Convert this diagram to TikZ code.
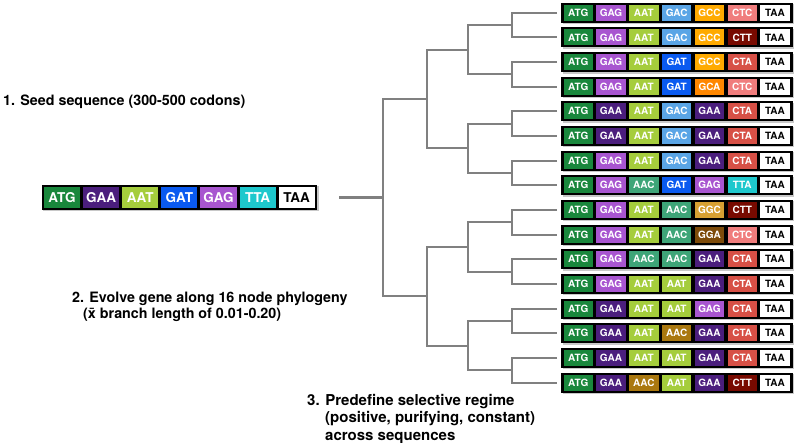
\documentclass[tikz,border=0pt]{standalone}
\usepackage{fontspec}
\setmainfont{TeX Gyre Heros}
\usetikzlibrary{calc}
\definecolor{cATG}{RGB}{25,135,60}
\definecolor{cGAG}{RGB}{168,85,208}
\definecolor{cGAA}{RGB}{75,30,125}
\definecolor{cAAT}{RGB}{165,205,60}
\definecolor{cAACt}{RGB}{62,165,120}
\definecolor{cAACb}{RGB}{170,120,15}
\definecolor{cGAC}{RGB}{90,165,230}
\definecolor{cGAT}{RGB}{10,90,240}
\definecolor{cGCC}{RGB}{255,170,0}
\definecolor{cGCA}{RGB}{255,135,0}
\definecolor{cCTC}{RGB}{240,125,125}
\definecolor{cCTT}{RGB}{120,10,0}
\definecolor{cCTA}{RGB}{215,80,70}
\definecolor{cTTA}{RGB}{30,200,205}
\definecolor{cGGC}{RGB}{215,160,50}
\definecolor{cGGA}{RGB}{125,75,10}
\definecolor{treegray}{RGB}{128,128,128}
\definecolor{shadowgray}{RGB}{200,200,200}
\tikzset{
  treeline/.style={draw=treegray, line width=2.2pt},
  leafbox/.style={fill=black, minimum width=231.5pt, minimum height=20pt, inner sep=0pt, outer sep=0pt},
  leafcell/.style={minimum width=29.5pt, minimum height=16pt, inner sep=0pt, outer sep=0pt, text=white, font=\fontsize{10}{10}\selectfont\bfseries},
  seedbox/.style={fill=black, minimum width=275.3pt, minimum height=25pt, inner sep=0pt, outer sep=0pt},
  seedcell/.style={minimum width=36.1pt, minimum height=21pt, inner sep=0pt, outer sep=0pt, text=white, font=\fontsize{13.5}{13.5}\selectfont\bfseries},
  steplabel/.style={font=\fontsize{14.3}{17}\selectfont\bfseries, inner sep=0pt, anchor=base west},
  steplabelb/.style={font=\fontsize{15}{17}\selectfont\bfseries, inner sep=0pt, anchor=base west},
}
\newcommand\leafrow[2]{%
  \pgfmathsetmacro\myrowy{12.7+24.66*(#1-1)}%
  \fill[shadowgray] (562.5,\myrowy-8.5) rectangle (794,\myrowy+11.5);
  \node[leafbox] (r#1) at (676.75,\myrowy) {};
  \foreach \c/\t [count=\j] in {#2}{
    \node[leafcell, fill=\c] (r#1c\j) at ({578.25+32.8*(\j-1)},\myrowy) {\t};
  }
  \node[leafcell, fill=white, text=black] (r#1c7) at ({578.25+32.8*6},\myrowy) {TAA};
  \coordinate (L#1) at ([xshift=-4pt]r#1.west);
}
\begin{document}
\begin{tikzpicture}[x=1pt,y=-1pt]
\useasboundingbox (0,0) rectangle (797,443);

% seed sequence
\fill[shadowgray] (43.2,186.5) rectangle (318.5,211.5);
\node[seedbox] (seed) at (179.35,197.5) {};
\foreach \c/\t [count=\j] in {cATG/ATG, cGAA/GAA, cAAT/AAT, cGAT/GAT, cGAG/GAG, cTTA/TTA}{
  \node[seedcell, fill=\c] (s\j) at ({62.05+39.1*(\j-1)},197.5) {\t};
}
\node[seedcell, fill=white, text=black] (s7) at ({62.05+39.1*6},197.5) {TAA};

% leaf sequences
\leafrow{1}{cATG/ATG, cGAG/GAG, cAAT/AAT, cGAC/GAC, cGCC/GCC, cCTC/CTC}
\leafrow{2}{cATG/ATG, cGAG/GAG, cAAT/AAT, cGAC/GAC, cGCC/GCC, cCTT/CTT}
\leafrow{3}{cATG/ATG, cGAG/GAG, cAAT/AAT, cGAT/GAT, cGCC/GCC, cCTA/CTA}
\leafrow{4}{cATG/ATG, cGAG/GAG, cAAT/AAT, cGAT/GAT, cGCA/GCA, cCTC/CTC}
\leafrow{5}{cATG/ATG, cGAA/GAA, cAAT/AAT, cGAC/GAC, cGAA/GAA, cCTA/CTA}
\leafrow{6}{cATG/ATG, cGAA/GAA, cAAT/AAT, cGAC/GAC, cGAA/GAA, cCTA/CTA}
\leafrow{7}{cATG/ATG, cGAG/GAG, cAAT/AAT, cGAC/GAC, cGAA/GAA, cCTA/CTA}
\leafrow{8}{cATG/ATG, cGAG/GAG, cAACt/AAC, cGAT/GAT, cGAG/GAG, cTTA/TTA}
\leafrow{9}{cATG/ATG, cGAG/GAG, cAAT/AAT, cAACt/AAC, cGGC/GGC, cCTT/CTT}
\leafrow{10}{cATG/ATG, cGAG/GAG, cAAT/AAT, cAACt/AAC, cGGA/GGA, cCTC/CTC}
\leafrow{11}{cATG/ATG, cGAG/GAG, cAACt/AAC, cAACt/AAC, cGAA/GAA, cCTA/CTA}
\leafrow{12}{cATG/ATG, cGAG/GAG, cAAT/AAT, cAAT/AAT, cGAA/GAA, cCTA/CTA}
\leafrow{13}{cATG/ATG, cGAA/GAA, cAAT/AAT, cAAT/AAT, cGAG/GAG, cCTA/CTA}
\leafrow{14}{cATG/ATG, cGAA/GAA, cAAT/AAT, cAACb/AAC, cGAA/GAA, cCTA/CTA}
\leafrow{15}{cATG/ATG, cGAA/GAA, cAAT/AAT, cAAT/AAT, cGAA/GAA, cCTA/CTA}
\leafrow{16}{cATG/ATG, cGAA/GAA, cAACb/AAC, cAAT/AAT, cGAA/GAA, cCTT/CTT}

% tree
\foreach \k in {1,...,8}{
  \pgfmathtruncatemacro\ka{2*\k-1}
  \pgfmathtruncatemacro\kb{2*\k}
  \coordinate (D\k) at (512,{12.7+24.66*(2*\k-1.5)});
  \draw[treeline] (L\ka) -| (D\k) |- (L\kb);
}
\foreach \k in {1,...,4}{
  \pgfmathtruncatemacro\ka{2*\k-1}
  \pgfmathtruncatemacro\kb{2*\k}
  \coordinate (C\k) at (468,{12.7+24.66*(4*\k-2.5)});
  \draw[treeline] (D\ka) -| (C\k) |- (D\kb);
}
\foreach \k in {1,2}{
  \pgfmathtruncatemacro\ka{2*\k-1}
  \pgfmathtruncatemacro\kb{2*\k}
  \coordinate (B\k) at (427,{12.7+24.66*(8*\k-4.5)});
  \draw[treeline] (C\ka) -| (B\k) |- (C\kb);
}
\coordinate (A) at (383,{12.7+24.66*7.5});
\draw[treeline] (B1) -| (A) |- (B2);
\coordinate (root0) at ([xshift=22pt]seed.east);
\draw[treeline] (root0) -- (root0 -| A);

% labels
\node[steplabel] (lab1) at (3,106) {1. Seed sequence (300-500 codons)};
\node[steplabel] (lab2a) at (72,303) {2. Evolve gene along 16 node phylogeny};
\node[steplabel] (lab2b) at (83,319) {(\={x} branch length of 0.01-0.20)};
\node[steplabelb] (lab3a) at (307,405) {3. Predefine selective regime};
\node[steplabelb] (lab3b) at (325,422.5) {(positive, purifying, constant)};
\node[steplabelb] (lab3c) at (325,440) {across sequences};
\end{tikzpicture}
\end{document}
